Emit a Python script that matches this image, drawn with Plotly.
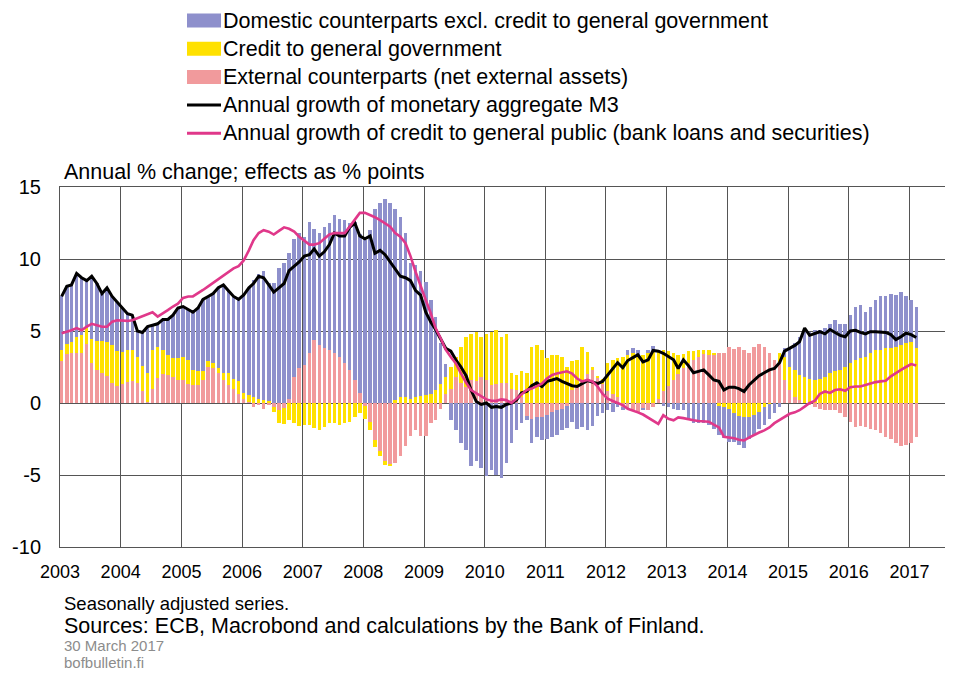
import pandas as pd
import plotly.graph_objects as go

# ---------------- data (monthly, Jan 2003 - Feb 2017) ----------------
start = "2003-01-01"

external = [
    2.9, 3.4, 3.5, 3.5, 3.45, 4.1, 2.75, 2.3, 2.1, 1.85, 1.4, 1.2,
    1.35, 1.45, 1.55, 1.4, 0.8, 0.1, 1.0, 1.75, 2.0, 1.95, 1.8, 1.6,
    1.6, 1.35, 1.25, 1.25, 1.6, 2.5, 2.4, 2.05, 1.6, 1.25, 1.0, 0.65,
    0.3, 0.1, -0.25, -0.15, -0.45, -0.15, -0.25, -0.5, -0.35, 0.3, 1.8, 2.4,
    2.65, 3.45, 4.4, 4.0, 3.8, 3.7, 3.45, 3.2, 2.75, 2.3, 1.6, 0.67,
    -0.2, -1.3, -2.6, -3.3, -4.0, -4.25, -4.2, -3.7, -3.0, -2.3, -1.9, -2.3,
    -2.3, -1.4, -1.2, -0.4, 0.6, 1.0, 1.8, 1.4, 1.1, 1.6, 1.5, 1.8,
    1.6, 1.25, 1.3, 1.4, 1.4, 1.0, 0.9, 0.4, -0.9, -1.1, -1.0, -0.95,
    -0.8, -0.6, -0.5, -0.4, -0.2, 0.9, 1.2, 1.5, 2.0, 2.3, 1.8, 1.3,
    0.8, 0.6, 0.4, -0.3, -0.4, -0.5, -0.6, -0.4, -0.5, -0.3, 0.3, 0.8,
    1.2, 1.6, 2.0, 2.4, 2.8, 3.0, 3.2, 3.4, 3.35, 3.3, 3.5, 3.5,
    3.9, 3.75, 3.9, 3.7, 3.45, 3.9, 4.1, 3.9, 3.45, 3.0, 2.75, 1.6,
    0.9, 0.45, 0.2, 0.0, -0.1, -0.25, -0.4, -0.5, -0.5, -0.5, -0.7, -0.95,
    -1.3, -1.65, -1.6, -1.7, -1.8, -1.9, -2.1, -2.35, -2.5, -2.8, -3.0, -2.9,
    -2.8, -2.35,
]

government = [
    0.75, 0.7, 0.75, 1.1, 1.3, 1.1, 1.7, 2.0, 2.2, 2.4, 2.6, 2.4,
    2.2, 2.25, 2.15, 1.8, 1.8, 2.0, 2.7, 2.15, 1.7, 1.4, 1.3, 1.5,
    1.6, 1.65, 1.05, 0.95, 0.6, 0.4, 0.35, 0.35, 0.45, 0.8, 0.7, 0.9,
    0.4, 0.45, 0.45, 0.3, 0.2, 0.15, -0.4, -0.9, -1.1, -1.2, -1.4, -1.6,
    -1.5, -1.5, -1.75, -1.9, -1.65, -1.4, -1.4, -1.5, -1.4, -1.3, -0.95, -0.7,
    -0.9, -0.6, -0.45, -0.35, -0.3, -0.1, 0.2, 0.4, 0.45, 0.3, 0.4, 0.5,
    0.55, 0.65, 0.9, 1.35, 1.2, 1.5, 1.4, 2.5, 3.5, 3.2, 3.45, 2.8,
    3.2, 3.7, 3.75, 3.2, 3.4, 1.05, 1.05, 1.8, 2.1, 3.9, 4.0, 3.7,
    3.1, 3.35, 3.35, 3.2, 2.5, 2.0, 1.8, 2.4, 1.55, 0.2, 0.1, 0.4,
    1.95, 2.4, 2.7, 3.2, 3.35, 3.45, 3.2, 3.3, 3.45, 3.55, 3.3, 2.9,
    2.4, 1.9, 1.3, 1.0, 0.8, 0.6, 0.5, 0.3, 0.35, 0.2, -0.2, -0.3,
    -0.4, -0.7, -0.9, -1.0, -1.0, -0.8, -0.6, -0.3, -0.1, 0.0, 0.7, 1.6,
    1.6, 1.85, 1.75, 1.8, 1.7, 1.6, 1.65, 1.8, 2.05, 2.2, 2.3, 2.5,
    2.75, 3.0, 3.1, 3.2, 3.45, 3.7, 3.7, 3.8, 3.85, 3.9, 4.0, 4.15,
    4.25, 3.8,
]

domestic = [
    3.75, 4.0, 3.95, 4.4, 3.95, 3.3, 4.35, 4.0, 3.3, 3.75, 3.4, 3.4,
    3.05, 2.5, 2.4, 1.8, 2.3, 3.2, 1.7, 1.6, 2.1, 2.45, 3.0, 3.5,
    3.5, 3.5, 4.0, 4.4, 5.0, 4.5, 4.85, 5.6, 6.15, 5.75, 5.7, 5.65,
    6.8, 7.45, 8.1, 8.65, 8.95, 8.2, 8.35, 9.4, 9.75, 10.1, 9.6, 9.4,
    8.9, 9.15, 7.7, 7.8, 8.45, 8.8, 9.6, 9.6, 9.95, 10.2, 11.0, 11.1,
    11.3, 12.0, 13.5, 13.9, 14.2, 13.9, 13.3, 12.5, 11.35, 9.4, 9.2, 8.7,
    7.85, 6.5, 5.1, 2.8, 0.9, -1.2, -1.9, -2.8, -3.25, -4.4, -4.0, -4.5,
    -5.1, -4.65, -5.0, -5.2, -4.2, -2.8, -1.9, -1.4, -0.3, -1.7, -1.35, -1.6,
    -1.7, -1.75, -1.7, -1.5, -1.55, -1.3, -1.8, -1.7, -1.9, -1.6, -0.9, -0.7,
    -0.5, -0.6, -0.3, -0.2, 0.3, 0.4, 0.5, -0.1, 0.2, 0.4, 0.1, -0.2,
    -0.3, -0.4, -0.5, -0.5, -1.2, -1.4, -1.4, -1.4, -1.5, -1.8, -2.0, -2.1,
    -2.3, -2.0, -2.0, -2.1, -1.5, -1.4, -1.2, -1.2, -1.0, -0.7, -0.3, 0.6,
    1.4, 1.85, 2.65, 3.25, 3.25, 3.45, 3.4, 3.4, 3.45, 3.55, 3.2, 3.0,
    3.35, 3.7, 3.7, 3.15, 3.25, 3.45, 3.7, 3.65, 3.7, 3.6, 3.7, 3.25,
    2.9, 2.9,
]

m3 = [
    7.4, 8.1, 8.2, 9.0, 8.7, 8.5, 8.8, 8.3, 7.6, 8.0, 7.4, 7.0,
    6.6, 6.2, 6.1, 5.0, 4.9, 5.3, 5.4, 5.5, 5.8, 5.8, 6.1, 6.6,
    6.7, 6.5, 6.3, 6.6, 7.2, 7.4, 7.6, 8.0, 8.2, 7.8, 7.4, 7.2,
    7.5, 8.0, 8.3, 8.8, 8.7, 8.2, 7.7, 8.0, 8.3, 9.2, 9.5, 9.8,
    10.2, 10.3, 10.7, 10.2, 10.5, 11.0, 11.8, 11.6, 11.6, 12.2, 12.5, 11.6,
    11.4, 11.6, 10.4, 10.6, 10.3, 9.8, 9.35, 8.8, 8.7, 8.5, 7.8, 7.5,
    6.3, 5.6, 5.1, 4.4, 3.8, 3.6, 3.0, 2.5, 1.9, 0.9, 0.1, -0.1,
    0.0, -0.3, -0.25, -0.3, -0.1, 0.0, 0.2, 0.7, 0.8, 1.2, 1.4, 1.15,
    1.5, 1.6, 1.7, 1.5, 1.35, 1.2, 1.15, 1.35, 1.55, 1.45, 1.35, 1.5,
    1.95, 2.4, 2.8, 2.45, 2.95, 3.15, 3.35, 2.85, 3.0, 3.65, 3.6, 3.45,
    3.2, 3.0, 2.4, 3.0, 2.6, 2.1, 2.2, 2.3, 1.95, 1.6, 1.5, 0.9,
    1.1, 1.1, 1.0, 0.8, 1.25, 1.6, 1.9, 2.1, 2.3, 2.4, 2.8, 3.6,
    3.8, 4.0, 4.25, 5.2, 4.7, 4.8, 4.95, 4.8, 5.1, 4.9, 4.7, 4.6,
    5.0, 5.05, 4.9, 4.8, 4.95, 4.95, 4.95, 4.9, 4.75, 4.4, 4.6, 4.85,
    4.75, 4.55,
]

credit = [
    4.85, 4.95, 5.05, 5.2, 5.05, 5.3, 5.5, 5.4, 5.3, 5.3, 5.65, 5.75,
    5.7, 5.7, 5.75, 5.9, 6.0, 6.2, 6.3, 6.0, 6.2, 6.45, 6.7, 6.9,
    7.3, 7.4, 7.4, 7.6, 7.85, 8.1, 8.35, 8.6, 8.9, 9.1, 9.35, 9.5,
    9.9, 10.6, 11.3, 11.8, 12.0, 11.9, 11.7, 11.95, 12.2, 12.1, 11.9, 11.55,
    11.3, 11.0, 11.0, 11.1, 11.4, 11.7, 11.8, 11.8, 11.8, 12.25, 12.7, 13.2,
    13.2, 13.05, 12.9, 12.7, 12.5, 12.25, 11.8, 11.55, 11.1, 10.2, 9.1, 8.1,
    7.15, 6.2, 5.2, 4.5, 3.7, 3.2, 2.75, 2.06, 1.4, 0.9, 0.67, 0.44,
    0.25, 0.16, 0.15, 0.25, 0.2, 0.0, 0.3, 0.65, 0.9, 1.0, 1.15, 1.35,
    1.7, 1.95, 2.05, 2.1, 2.2, 2.05, 1.7, 1.5, 1.6, 1.5, 1.15, 0.65,
    0.3, 0.14, 0.0, -0.15, -0.4, -0.5, -0.65, -0.8, -1.0, -1.2, -1.45, -0.85,
    -1.1, -1.2, -1.0, -1.05, -1.15, -1.2, -1.25, -1.25, -1.3, -1.5, -1.7, -2.35,
    -2.4, -2.45, -2.55, -2.6, -2.4, -2.2, -2.05, -1.9, -1.7, -1.4, -1.2, -0.95,
    -0.75, -0.65, -0.5, -0.25, 0.0, 0.15, 0.63, 0.8, 0.7, 0.9, 0.95, 0.85,
    1.1, 1.15, 1.15, 1.25, 1.37, 1.45, 1.5, 1.55, 1.85, 2.1, 2.3, 2.5,
    2.7, 2.6,
]

year_ticks = [str(y) for y in range(2003, 2018)]
y_ticks = [-10, -5, 0, 5, 10, 15]
y_tick_labels = ["-10", "-5", "0", "5", "10", "15"]

names = [
    "Domestic counterparts excl. credit to general government",
    "Credit to general government",
    "External counterparts (net external assets)",
    "Annual growth of monetary aggregate M3",
    "Annual growth of credit to general public (bank loans and securities)",
]

# ---------------- styling ----------------
BLUE = "#8E90CC"
YELLOW = "#FFE100"
PINK = "#F19A9C"
BLACK = "#000000"
MAGENTA = "#E0388A"
GRID = "#555555"
FONT = "Liberation Sans"

# the page body has an 8px default margin: the figure is sized to fit the window
OFF = 8
PAGE_W, PAGE_H = 961, 673
PLOT_L, PLOT_R, PLOT_T, PLOT_B = 60, 945, 187, 547   # plot area, in page pixels
W, H = PAGE_W - OFF, PAGE_H - OFF
L, T = PLOT_L - OFF, PLOT_T - OFF
R, B = PAGE_W - PLOT_R, PAGE_H - PLOT_B
PW, PH = PLOT_R - PLOT_L, PLOT_B - PLOT_T

months = pd.date_range(start, periods=len(m3), freq="MS") + pd.Timedelta(days=10)
x_end = "2017-08-03"

fig = go.Figure()
bar_w = 21 * 86400000
fig.add_trace(go.Bar(x=months, y=external, name=names[2], marker=dict(color=PINK, line=dict(width=0)),
                     width=bar_w, showlegend=False))
fig.add_trace(go.Bar(x=months, y=government, name=names[1], marker=dict(color=YELLOW, line=dict(width=0)),
                     width=bar_w, showlegend=False))
fig.add_trace(go.Bar(x=months, y=domestic, name=names[0], marker=dict(color=BLUE, line=dict(width=0)),
                     width=bar_w, showlegend=False))
fig.add_trace(go.Scatter(x=months, y=m3, name=names[3], mode="lines",
                         line=dict(color=BLACK, width=3), showlegend=False))
fig.add_trace(go.Scatter(x=months, y=credit, name=names[4], mode="lines",
                         line=dict(color=MAGENTA, width=2.6), showlegend=False))

fig.update_layout(
    width=W, height=H,
    margin=dict(l=L, r=R, t=T, b=B, pad=0, autoexpand=False),
    paper_bgcolor="white", plot_bgcolor="white",
    barmode="relative", bargap=0,
    font=dict(family=FONT, color="black"),
    xaxis=dict(
        type="date", range=[start, x_end], automargin=False,
        tickvals=[f"{y}-01-01" for y in year_ticks], ticktext=year_ticks,
        showgrid=True, gridcolor=GRID, gridwidth=1,
        showline=True, linecolor=GRID, linewidth=1, mirror=True,
        ticks="", tickfont=dict(size=18, family=FONT),
        ticklabelstandoff=8, zeroline=False,
    ),
    xaxis2=dict(
        type="date", range=[start, x_end], overlaying="x", anchor="free", automargin=False,
        position=(0 - y_ticks[0]) / (y_ticks[-1] - y_ticks[0]),
        showgrid=False, showline=True, linecolor="#333", linewidth=1,
        ticks="inside", ticklen=4, tickwidth=1, tickcolor="#333",
        tick0=start, dtick="M1", showticklabels=False, layer="above traces",
        zeroline=False,
    ),
    yaxis=dict(
        range=[y_ticks[0], y_ticks[-1]], tickvals=y_ticks, ticktext=y_tick_labels,
        automargin=False,
        showgrid=True, gridcolor=GRID, gridwidth=1,
        showline=True, linecolor=GRID, linewidth=1,
        zeroline=False, ticks="", tickfont=dict(size=20, family=FONT),
        ticklabelstandoff=14,
    ),
)


def px_x(px):
    return (px - PLOT_L) / PW


def px_y(py):
    return (PLOT_B - py) / PH


shapes = []
annotations = []
legend_items = [
    (names[0], BLUE, "bar"),
    (names[1], YELLOW, "bar"),
    (names[2], PINK, "bar"),
    (names[3], BLACK, "line"),
    (names[4], MAGENTA, "line"),
]
for i, (label, color, kind) in enumerate(legend_items):
    cy = 20.5 + 28.2 * i
    if kind == "bar":
        shapes.append(dict(type="rect", xref="paper", yref="paper",
                           x0=px_x(187), x1=px_x(221), y0=px_y(cy + 7), y1=px_y(cy - 7),
                           fillcolor=color, line=dict(width=0)))
    else:
        shapes.append(dict(type="line", xref="paper", yref="paper",
                           x0=px_x(187), x1=px_x(221), y0=px_y(cy), y1=px_y(cy),
                           line=dict(color=color, width=3)))
    annotations.append(dict(text=label, xref="paper", yref="paper", x=px_x(221), y=px_y(cy),
                            xanchor="left", yanchor="middle", showarrow=False,
                            font=dict(size=21.5, family=FONT, color="black")))

texts = [
    ("Annual % change; effects as % points", 62, 172, 21.5, "black"),
    ("Seasonally adjusted series.", 62, 603, 18.5, "black"),
    ("Sources: ECB, Macrobond and calculations by the Bank of Finland.", 62, 626, 21.5, "black"),
    ("30 March 2017", 62, 645, 15, "#8c8c8c"),
    ("bofbulletin.fi", 62, 662, 15, "#8c8c8c"),
]
for txt, x0, cy, size, col in texts:
    annotations.append(dict(text=txt, xref="paper", yref="paper", x=px_x(x0), y=px_y(cy),
                            xanchor="left", yanchor="middle", showarrow=False,
                            font=dict(size=size, family=FONT, color=col)))

fig.update_layout(shapes=shapes, annotations=annotations)
fig.write_html("out.html")
